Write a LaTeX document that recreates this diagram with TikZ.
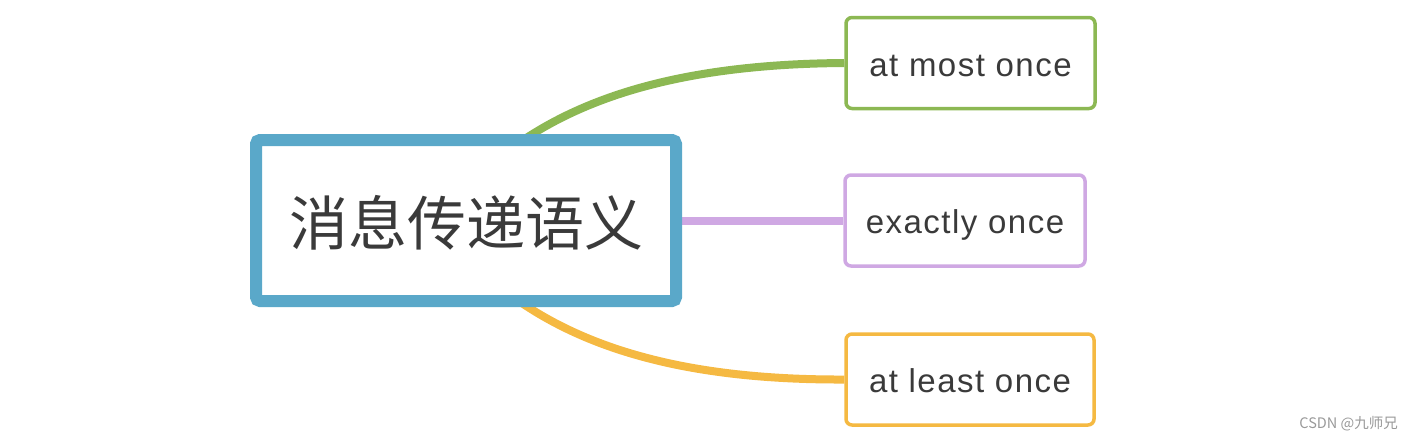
\documentclass[tikz,border=0pt]{standalone}
\usepackage{fontspec}
\setmainfont{Liberation Sans}
\newfontfamily\cjk{Noto Sans CJK SC}
\newfontfamily\leaffont[LetterSpace=4.5]{Liberation Sans}
\usetikzlibrary{backgrounds}
\definecolor{cblue}{HTML}{5AA8C9}
\definecolor{cgreen}{HTML}{8CB853}
\definecolor{cpurple}{HTML}{CFA8E3}
\definecolor{corange}{HTML}{F5B942}
\definecolor{ctext}{HTML}{3A3A3A}
\tikzset{
  rootbox/.style={draw=cblue, line width=12pt, fill=white, rounded corners=4pt,
    minimum width=420pt, minimum height=161pt, inner sep=0pt,
    text height=49pt, text depth=0pt,
    text=ctext, font=\cjk\fontsize{59}{70}\selectfont},
  leafbox/.style={line width=3.5pt, fill=white, rounded corners=6pt,
    minimum height=91pt, inner sep=0pt, text=ctext,
    text height=26pt, text depth=0pt,
    font=\leaffont\fontsize{33}{40}\selectfont},
  link/.style={line width=8pt}
}
\begin{document}
\begin{tikzpicture}[x=1pt,y=-1pt]
\useasboundingbox (0,0) rectangle (1412,440);
\node[rootbox] (root) at (466,220.5) {消息传递语义};
\node[leafbox, draw=cgreen, minimum width=249pt] (am) at (970.5,63) {at most once};
\node[leafbox, draw=cpurple, minimum width=240pt] (ex) at (965,220.5) {exactly once};
\node[leafbox, draw=corange, minimum width=248pt] (al) at (970,379.5) {at least once};
\coordinate (gs) at (516,145);
\coordinate (os) at (516,299);
\begin{scope}[on background layer]
\draw[link, cgreen] (gs) .. controls (594,90) and (700,64) .. (am.west);
\draw[link, cpurple] (root.east) -- (ex.west);
\draw[link, corange] (os) .. controls (594,354) and (700,380) .. (al.west);
\end{scope}
\node[anchor=east, text=gray!80, font=\cjk\fontsize{14.5}{17}\selectfont, inner sep=0pt] (wm) at (1398,424) {CSDN @九师兄};
\end{tikzpicture}
\end{document}
